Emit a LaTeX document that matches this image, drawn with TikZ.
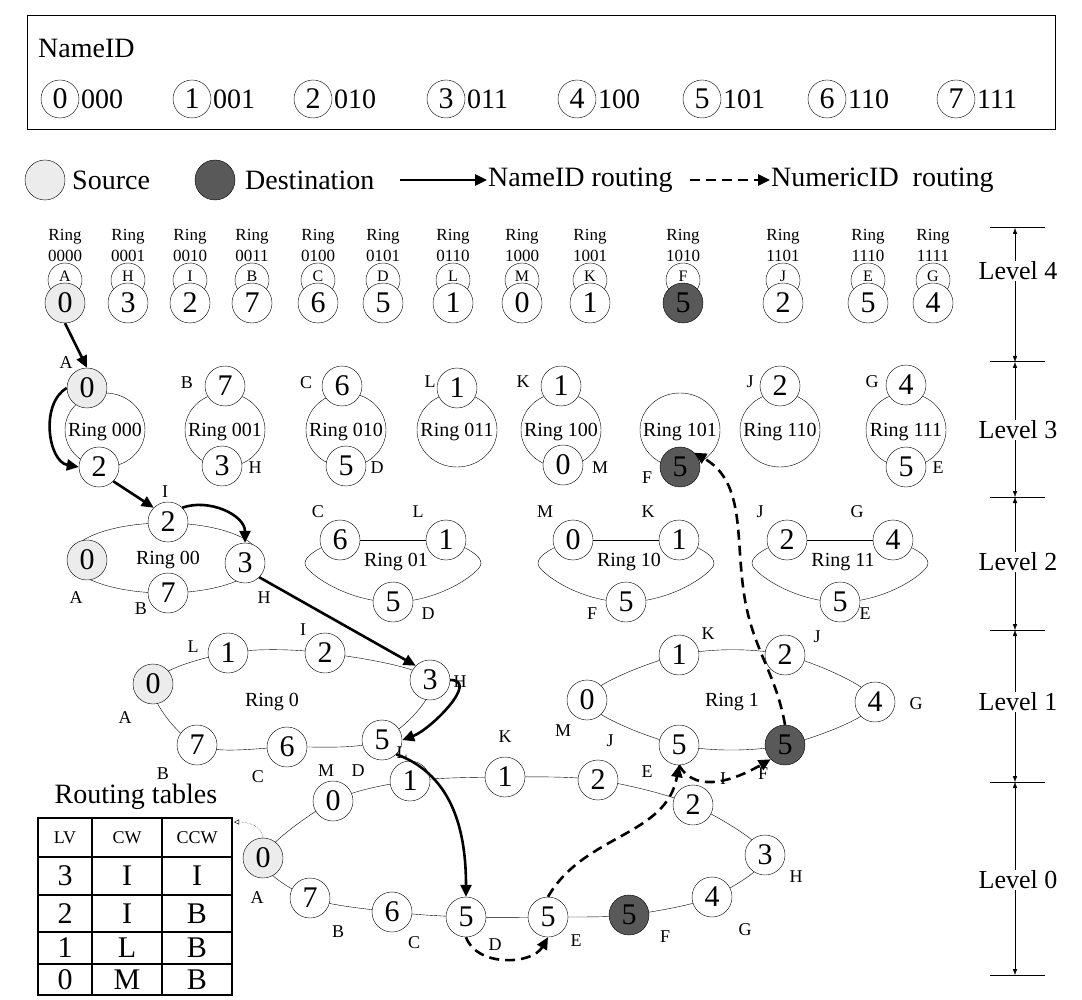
\documentclass[tikz,border=0pt]{standalone}
\usepackage{fontspec}
\setmainfont{Liberation Serif}
\usetikzlibrary{arrows.meta}
\begin{document}
\begin{tikzpicture}[x=1pt,y=-1pt,
  nd/.style={circle,draw,fill=white,minimum size=40pt,inner sep=0pt,font=\fontsize{30}{30}\selectfont},
  src/.style={nd,fill=gray!15},
  dst/.style={nd,fill=black!65},
  tl/.style={circle,draw,fill=white,minimum size=34pt,inner sep=0pt,font=\fontsize{16}{16}\selectfont},
  lb/.style={font=\fontsize{18}{18}\selectfont,inner sep=0pt},
  rl/.style={font=\fontsize{20}{20}\selectfont,inner sep=0pt},
  hd/.style={font=\fontsize{17}{21}\selectfont,align=center,inner sep=0pt},
  big/.style={font=\fontsize{28}{28}\selectfont,inner sep=0pt},
  lv/.style={font=\fontsize{26}{26}\selectfont,fill=white,inner sep=1pt},
  sol/.style={-{Triangle[length=12pt,width=11pt]},line width=2.6pt},
  dsh/.style={sol,dash pattern=on 10pt off 6pt}]
\useasboundingbox (0,0) rectangle (1082,1000);
% name box
\draw[line width=1pt] (27,16) rectangle (1055,130);
\node[big,anchor=west] (nm) at (38,48) {NameID};
\foreach \i/\x/\b in {0/60/000,1/192/001,2/313/010,3/446/011,4/577/100,5/702/101,6/827/110,7/956/111}{
  \node[nd,minimum size=38pt] (k\i) at (\x,99) {\i};
  \node[big,anchor=west] (kb\i) at (\x+21,99) {\b};}
% legend
\node[src] (ls) at (45,180) {};
\node[big,anchor=west] (lst) at (72,180) {Source};
\node[dst] (ld) at (215,180) {};
\node[big,anchor=west] (ldt) at (245,180) {Destination};
\coordinate (a1) at (400,180); \coordinate (a2) at (487,180);
\draw[sol] (a1) -- (a2);
\node[big,anchor=west] (lnt) at (488,180) {NameID routing};
\coordinate (b1) at (690,180); \coordinate (b2) at (770,180);
\draw[dsh] (b1) -- (b2);
\node[big,anchor=west] (lmt) at (771,180) {NumericID\ \ routing};
% level 4
\foreach \n/\x/\bits/\L/\v/\s in {t0/65/0000/A/0/src,t1/128/0001/H/3/nd,t2/190/0010/I/2/nd,t3/252/0011/B/7/nd,t4/318/0100/C/6/nd,t5/383/0101/D/5/nd,t6/453/0110/L/1/nd,t7/522/1000/M/0/nd,t8/590/1001/K/1/nd,t9/683/1010/F/5/dst,t10/783/1101/J/2/nd,t11/868/1110/E/5/nd,t12/933/1111/G/4/nd}{
  \node[hd] (\n h) at (\x,245) {Ring\\\bits};
  \node[tl] (\n u) at (\x,280) {\raisebox{7pt}{\L}};
  \node[\s] (\n) at (\x,303) {\v};}
% level 3
\foreach \n/\x/\t in {r0/105/000,r1/225/001,r2/346/010,r3/457/011,r4/561/100,r5/680/101,r6/780/110,r7/906/111}{
  \draw (\x,430) ellipse (40 and 37);
  \node[rl] (\n l) at (\x,432) {Ring \t};}
\node[src] (p0) at (87,388) {0}; \node[nd] (p2) at (99,467) {2};
\node[nd] (q7) at (225,386) {7}; \node[nd] (q3) at (222,466) {3};
\node[nd] (s6) at (342,386) {6}; \node[nd] (s5) at (346,466) {5};
\node[nd] (u1) at (457,388) {1};
\node[nd] (v1) at (561,386) {1}; \node[nd] (v0) at (563,465) {0};
\node[dst] (w5) at (680,467) {5};
\node[nd] (x2) at (780,386) {2};
\node[nd] (y4) at (906,385) {4}; \node[nd] (y5) at (906,467) {5};
\foreach \t/\x/\y in {A/66/363,B/187/383,H/255/468,C/306/383,D/377/468,L/430/382,K/523/382,M/600/468,F/647/478,J/750/382,G/872/382,E/938/468}{
  \node[lb] (l3\t) at (\x,\y) {\t};}
% level 2
\draw (165,558) ellipse (95 and 35);
\node[rl] (r00) at (168,560) {Ring 00};
\node[nd] (m2) at (168,522) {2}; \node[src] (m0) at (87,560) {0};
\node[nd] (m3) at (245,563) {3}; \node[nd] (m7) at (168,593) {7};
\node[lb] (l2I) at (165,492) {I}; \node[lb] (l2A) at (76,598) {A};
\node[lb] (l2H) at (264,598) {H}; \node[lb] (l2B) at (141,609) {B};
\foreach \n/\cx/\a/\b/\c/\t in {g1/393/6/1/5/01,g2/626/0/1/5/10,g3/840/2/4/5/11}{
  \draw (\cx-53,540) -- (\cx+53,540);
  \draw plot[smooth,tension=0.8] coordinates {(\cx+53,540) (\cx+86,568) (\cx,602) (\cx-86,568) (\cx-53,540)};
  \node[rl] (\n l) at (\cx+3,562) {Ring \t};
  \node[nd] (\n a) at (\cx-53,540) {\a};
  \node[nd] (\n b) at (\cx+53,540) {\b};
  \node[nd] (\n c) at (\cx,602) {\c};}
\node[lb] (l2C) at (318,512) {C}; \node[lb] (l2L) at (418,512) {L}; \node[lb] (l2D) at (428,614) {D};
\node[lb] (l2M) at (545,512) {M}; \node[lb] (l2K) at (648,512) {K}; \node[lb] (l2F) at (592,614) {F};
\node[lb] (l2J) at (760,512) {J}; \node[lb] (l2G) at (857,512) {G}; \node[lb] (l2E) at (865,614) {E};
% level 1 ring 0
\draw plot[smooth cycle,tension=0.55] coordinates {(153,684) (228,653) (325,653) (430,680) (382,740) (287,747) (197,745)};
\node[rl] (R0) at (272,702) {Ring 0};
\node[src] (o0) at (153,684) {0}; \node[nd] (o1) at (228,653) {1};
\node[nd] (o2) at (325,653) {2}; \node[nd] (o3) at (430,680) {3};
\node[nd] (o5) at (382,740) {5}; \node[nd] (o6) at (287,747) {6};
\node[nd] (o7) at (197,745) {7};
\foreach \t/\x/\y in {L/193/647,I/303/630,H/460/682,A/125/718,B/163/774,C/258/777,D/358/771}{
  \node[lb] (l1\t) at (\x,\y) {\t};}
% ring 1
\draw plot[smooth cycle,tension=0.55] coordinates {(587,700) (679,655) (785,655) (875,702) (785,745) (679,745)};
\node[rl] (R1) at (732,702) {Ring 1};
\node[nd] (n0) at (587,700) {0}; \node[nd] (n1) at (679,655) {1};
\node[nd] (n2) at (785,655) {2}; \node[nd] (n4) at (875,702) {4};
\node[dst] (n5f) at (785,745) {5}; \node[nd] (n5e) at (679,745) {5};
\node[lb] (l1K) at (708,634) {K}; \node[lb] (l1J) at (817,637) {J};
\node[lb] (l1G) at (916,704) {G}; \node[lb] (l1M) at (563,731) {M};
\node[lb] (l1E) at (647,772) {E}; \node[lb] (l1F) at (763,774) {F};
% level 0
\draw plot[smooth cycle,tension=0.5] coordinates {(263,858) (333,801) (410,781) (505,777) (598,780) (693,805) (765,855) (712,897) (629,915) (548,917) (466,917) (392,912) (310,898)};
\node[src] (z0) at (263,858) {0}; \node[nd] (zM) at (333,801) {0};
\node[nd] (zL) at (410,781) {1}; \node[nd] (zK) at (505,777) {1};
\node[nd] (zJ) at (598,780) {2}; \node[nd] (zI) at (693,805) {2};
\node[nd] (zH) at (765,855) {3}; \node[nd] (zG) at (712,897) {4};
\node[dst] (zF) at (629,915) {5}; \node[nd] (zE) at (548,917) {5};
\node[nd] (zD) at (466,917) {5}; \node[nd] (zC) at (392,912) {6};
\node[nd] (zB) at (310,898) {7};
\node[lb] (l0M) at (326,771) {M}; \node[lb] (l0L) at (402,753) {L};
\node[lb] (l0K) at (505,737) {K}; \node[lb] (l0J) at (610,741) {J};
\node[lb] (l0I) at (723,779) {I}; \node[lb] (l0H) at (796,877) {H};
\node[lb] (l0G) at (745,930) {G}; \node[lb] (l0F) at (665,937) {F};
\node[lb] (l0E) at (576,941) {E}; \node[lb] (l0D) at (495,945) {D};
\node[lb] (l0C) at (414,943) {C}; \node[lb] (l0B) at (338,932) {B};
\node[lb] (l0A) at (257,898) {A};
% routing table
\node[big] (rt) at (136,797) {Routing tables};
\draw[line width=1.2pt] (38,818) rectangle (232,995);
\draw[line width=1.2pt] (38,857)--(232,857) (38,895)--(232,895) (38,932)--(232,932) (38,964)--(232,964) (92,818)--(92,995) (162,818)--(162,995);
\node[lb] (h1) at (65,838) {LV}; \node[lb] (h2) at (127,838) {CW}; \node[lb] (h3) at (197,838) {CCW};
\foreach \r/\a/\b/\c/\y in {1/3/I/I/876,2/2/I/B/914,3/1/L/B/948,4/0/M/B/980}{
  \node[nd,draw=none,fill=none] (c\r a) at (65,\y) {\a};
  \node[nd,draw=none,fill=none] (c\r b) at (127,\y) {\b};
  \node[nd,draw=none,fill=none] (c\r c) at (197,\y) {\c};}
\coordinate (tb) at (234,822);
\draw[densely dotted,-{Triangle[open,length=5pt,width=5pt]}] (z0.north) to[out=95,in=0] (tb);
% routing arrows
\draw[sol] (t0.south) -- (p0.north);
\draw[sol] (p0.west) to[out=210,in=170] (p2.west);
\draw[sol] (p2.south east) -- (m2.north west);
\draw[sol] (m2.north east) to[out=20,in=90] (m3.north);
\draw[sol] (m3.south east) -- (o3.north west);
\draw[sol] (o3.east) to[out=0,in=20] (o5.east);
\draw[sol] (o5.south east) to[out=-20,in=90] (zD.north);
\draw[dsh] (zD.south) to[out=-70,in=-120] (zE.south);
\draw[dsh] (zE.north) to[out=60,in=-100] (n5e.south);
\draw[dsh] (n5e.south) to[out=-60,in=-150] (n5f.south west);
\draw[dsh] (n5f.north) to[out=100,in=-80] (745,600) to[out=100,in=-30] (w5.north east);
% level scale
\foreach \y in {228,362,497,630,782,975}{\draw[line width=1pt] (990,\y)--(1045,\y);}
\foreach \a/\b/\m/\t in {228/362/271/4,362/497/430/3,497/630/562/2,630/782/702/1,782/975/880/0}{
  \draw[{Latex[length=6pt]}-{Latex[length=6pt]}] (1015,\a)--(1015,\b);
  \node[lv] (lv\t) at (1018,\m) {Level \t};}
\end{tikzpicture}
\end{document}
